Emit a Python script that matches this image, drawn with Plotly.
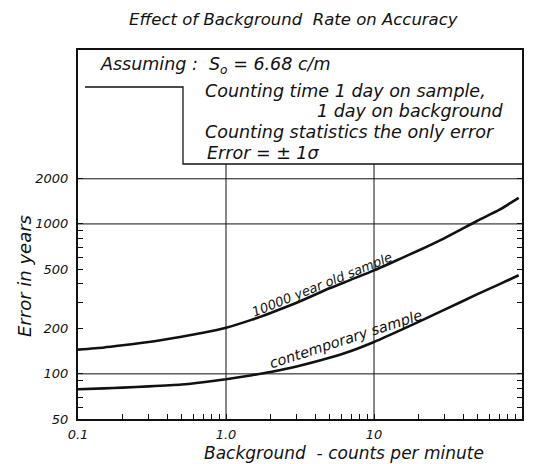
import plotly.graph_objects as go
import numpy as np

# Background counting rate (counts per minute)
background = [0.1, 0.15, 0.2, 0.3, 0.5, 0.7, 1.0, 1.5, 2.0, 3.0, 5.0, 7.0, 10.0, 15.0, 20.0, 30.0, 50.0, 70.0, 95.0]
# Error in years, 10000 year old sample
err_old = [145, 150, 155, 163, 177, 188, 203, 230, 255, 298, 372, 425, 490, 585, 665, 805, 1050, 1240, 1490]
# Error in years, contemporary sample
err_contemp = [79, 80, 81, 82.5, 85, 88, 92, 98, 103, 112, 128, 142, 163, 195, 222, 268, 340, 395, 455]

x_ticks = [0.1, 1, 10, 100]
x_ticklabels = ["0.1", "1.0", "10", "100"]
y_ticks = [50, 100, 200, 500, 1000, 2000]
y_ticklabels = ["50", "100", "200", "500", "1000", "2000"]
x_minor = [0.2, 0.3, 0.4, 0.5, 0.6, 0.7, 0.8, 0.9, 2, 3, 4, 5, 6, 7, 8, 9,
           20, 30, 40, 50, 60, 70, 80, 90]
y_minor = [60, 70, 80, 90, 300, 400, 600, 700, 800, 900]
h_grid = [100, 1000, 2000]
v_grid = [1, 10]
box_bottom_value = 2512

FONT = "DejaVu Sans"
BLACK = "#111111"

fig = go.Figure()

for g in h_grid:
    fig.add_trace(go.Scatter(x=[0.1, 100], y=[g, g], mode="lines",
                             line=dict(color=BLACK, width=1), hoverinfo="skip", showlegend=False))
for g in v_grid:
    fig.add_trace(go.Scatter(x=[g, g], y=[50, box_bottom_value], mode="lines",
                             line=dict(color=BLACK, width=1), hoverinfo="skip", showlegend=False))

fig.add_trace(go.Scatter(x=background, y=err_old, mode="lines",
                         line=dict(color=BLACK, width=2.6, shape="spline", smoothing=0.6),
                         name="10000 year old sample", showlegend=False))
fig.add_trace(go.Scatter(x=background, y=err_contemp, mode="lines",
                         line=dict(color=BLACK, width=2.6, shape="spline", smoothing=0.6),
                         name="contemporary sample", showlegend=False))

# page body has an 8px margin: the figure is placed at (8, 8) in the window
OFF = 8
W, H = 533 - OFF, 464 - OFF
PL, PR, PT, PB = 78, 522, 50, 419          # plot area in window pixels
L, T = PL - OFF, PT - OFF
R = W - (PR - OFF)
B = H - (PB - OFF)
pw, ph = PR - PL, PB - PT

def px(xp):
    return (xp - PL) / pw

def py(yp):
    return (PB - yp) / ph

fig.add_shape(type="path", xref="paper", yref="paper",
              path=f"M {px(85)} {py(87)} L {px(183)} {py(87)} L {px(183)} {py(164)} L 1 {py(164)}",
              line=dict(color=BLACK, width=1.3))

font_i = dict(family=FONT, color=BLACK, style="italic")

def ann(text, xp, yp, size=14, anchor="left", angle=0):
    fig.add_annotation(text=text, xref="paper", yref="paper", x=px(xp), y=py(yp),
                       xanchor=anchor, yanchor="middle", showarrow=False, textangle=angle,
                       font=dict(size=size, **font_i))

ann("Assuming :  S<sub>o</sub> = 6.68 c/m", 98, 65, 17.5)
ann("Counting time 1 day on sample,", 203, 91, 17.5)
ann("1 day on background", 506, 111, 17.5, anchor="right")
ann("Counting statistics the only error", 203, 132, 17.5)
ann("Error = ± 1σ", 205, 153, 17.5)

ann("10000 year old sample", 322, 284, 13, anchor="center", angle=-22)
ann("contemporary sample", 346, 339, 14.5, anchor="center", angle=-18)

fig.add_annotation(text="Effect of Background  Rate on Accuracy", xref="paper", yref="paper",
                   x=px(293), y=py(19), xanchor="center", yanchor="middle", showarrow=False,
                   font=dict(size=16.5, **font_i))
fig.add_annotation(text="Background  - counts per minute", xref="paper", yref="paper",
                   x=px(344), y=py(453), xanchor="center", yanchor="middle", showarrow=False,
                   font=dict(size=17, **font_i))
fig.add_annotation(text="Error in years", xref="paper", yref="paper",
                   x=px(24), y=py(276), xanchor="center", yanchor="middle", showarrow=False,
                   textangle=-90, font=dict(size=18, **font_i))

fig.update_layout(
    width=W, height=H, margin=dict(l=L, r=R, t=T, b=B, autoexpand=False),
    paper_bgcolor="white", plot_bgcolor="white",
    font=dict(family=FONT, color=BLACK),
    xaxis=dict(type="log", range=[-1, 2], tickvals=x_ticks, ticktext=x_ticklabels, automargin=False,
               ticks="inside", ticklen=5, tickcolor=BLACK, showgrid=False, zeroline=False,
               showline=True, linecolor=BLACK, linewidth=2, mirror=True,
               tickfont=dict(size=13, **font_i), ticklabelstandoff=2,
               minor=dict(tickvals=x_minor, ticks="inside", ticklen=5, tickcolor=BLACK, showgrid=False)),
    yaxis=dict(type="log", range=[np.log10(50), 4.16], tickvals=y_ticks, ticktext=y_ticklabels, automargin=False,
               ticks="inside", ticklen=5, tickcolor=BLACK, showgrid=False, zeroline=False,
               showline=True, linecolor=BLACK, linewidth=2, mirror="ticks",
               tickfont=dict(size=13, **font_i), ticklabelstandoff=5,
               minor=dict(tickvals=y_minor, ticks="inside", ticklen=5, tickcolor=BLACK, showgrid=False)),
)

fig.write_html("out.html")
